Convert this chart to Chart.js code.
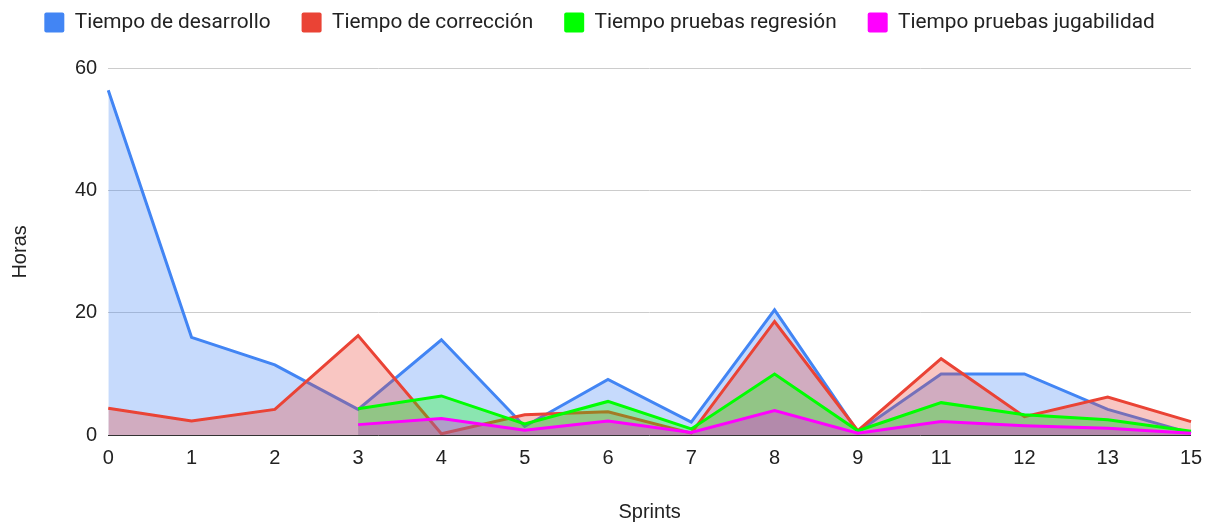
<!DOCTYPE html>
<html>
<head>
<meta charset="utf-8">
<script src="https://cdn.jsdelivr.net/npm/chart.js@4/dist/chart.umd.min.js"></script>
<style>
  body { margin: 0; background: #fff; }
  #wrap { width: 1213px; height: 522px; }
</style>
</head>
<body>
<div id="wrap"><canvas id="myChart" width="1213" height="522"></canvas></div>
<script>
const sprints = ['0', '1', '2', '3', '4', '5', '6', '7', '8', '9', '11', '12', '13', '15'];

const desarrollo = [56.5, 16, 11.5, 4.2, 15.6, 1.4, 9.1, 2.1, 20.5, 0.5, 10, 10, 4.2, 0.3];
const correccion = [4.4, 2.3, 4.2, 16.3, 0.2, 3.3, 3.8, 0.3, 18.6, 0.7, 12.5, 3, 6.2, 2.2];
const regresion = [null, null, null, 4.3, 6.4, 1.8, 5.5, 1, 10, 0.7, 5.3, 3.3, 2.5, 0.6];
const jugabilidad = [null, null, null, 1.7, 2.7, 0.8, 2.3, 0.4, 4, 0.3, 2.2, 1.5, 1.1, 0.3];

const axisFont = '"Liberation Sans", Arial, sans-serif';
const legendFont = 'Roboto, "Liberation Sans", Arial, sans-serif';

function serie(label, values, color, fillColor, order) {
    return {
        label: label,
        data: values,
        borderColor: color,
        backgroundColor: fillColor,
        borderWidth: 3,
        pointRadius: 0,
        tension: 0,
        fill: 'origin',
        order: order
    }
}

const data = {
    labels: sprints,
    datasets: [
        serie('Tiempo de desarrollo', desarrollo, '#4285F4', 'rgba(66,133,244,0.3)', 3),
        serie('Tiempo de corrección', correccion, '#EA4335', 'rgba(234,67,53,0.3)', 2),
        serie('Tiempo pruebas regresión', regresion, '#00FF00', 'rgba(0,255,0,0.3)', 1),
        serie('Tiempo pruebas jugabilidad', jugabilidad, '#FF00FF', 'rgba(255,0,255,0.3)', 0)
    ]
};

// legend sits high, keep the plot lower
const legendMargin = {
    id: 'legendMargin',
    beforeInit(chart) {
        const fit = chart.legend.fit;
        chart.legend.fit = function () {
            fit.bind(chart.legend)();
            this.height += 26;
        }
    }
};

const options = {
    responsive: false,
    animation: false,
    layout: { padding: { left: 8, right: 22, top: -19, bottom: -2 } },
    plugins: {
        legend: {
            position: 'top',
            labels: {
                boxWidth: 20,
                boxHeight: 20,
                padding: 31,
                color: '#222',
                useBorderRadius: true,
                borderRadius: 2,
                font: { family: legendFont, size: 20.8 },
                sort: (a, b) => a.datasetIndex - b.datasetIndex,
                generateLabels: chart => {
                    const items = Chart.defaults.plugins.legend.labels.generateLabels(chart);
                    items.forEach(it => {
                        it.fillStyle = it.strokeStyle;
                        it.lineWidth = 0;
                    });
                    return items;
                }
            }
        },
        tooltip: { enabled: false }
    },
    scales: {
        x: {
            offset: false,
            grid: { display: false },
            border: { display: false },
            ticks: { color: '#222', font: { family: axisFont, size: 20 }, padding: 3, maxRotation: 0, autoSkip: false },
            title: { display: true, text: 'Sprints', color: '#222', font: { family: axisFont, size: 20 }, padding: { top: 27, bottom: 0 } }
        },
        y: {
            min: 0,
            max: 60,
            ticks: { stepSize: 20, color: '#222', font: { family: axisFont, size: 20 }, padding: 11 },
            grid: {
                color: ctx => ctx.tick && ctx.tick.value === 0 ? '#333' : '#cccccc',
                drawTicks: false
            },
            border: { display: false },
            title: { display: true, text: 'Horas', color: '#222', font: { family: axisFont, size: 20 }, padding: { top: 0, bottom: 32 } }
        }
    }
};

new Chart(document.getElementById('myChart'), {
    type: 'line',
    data: data,
    options: options,
    plugins: [legendMargin]
});
</script>
</body>
</html>
